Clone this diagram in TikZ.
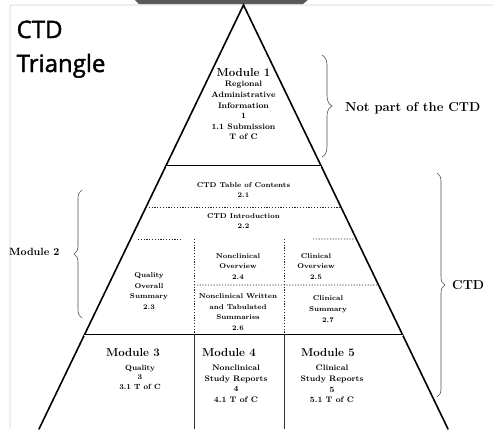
\documentclass[tikz,border=0pt]{standalone}
\usepackage{fontspec}
\usepackage{tikz}
\usetikzlibrary{calc,positioning,decorations.pathreplacing}
\newfontfamily\titlefont[FakeBold=1.6]{Open Sans}

\begin{document}
\begin{tikzpicture}[x=1pt, y=-1pt,
    edge/.style={line width=1.6pt, line cap=round},
    band/.style={line width=0.7pt, double, double distance=0.7pt},
    dots/.style={dash pattern=on 1.2pt off 1.6pt, line width=0.9pt, gray!30!black},
    split/.style={line width=0.8pt, gray!40!black},
    modtitle/.style={font=\fontsize{11.5}{13}\selectfont\bfseries, inner sep=0pt},
    modtext/.style={align=center, font=\fontsize{8}{10.6}\selectfont\bfseries, inner sep=0pt},
    sectext/.style={align=center, font=\fontsize{7}{10.6}\selectfont\bfseries, inner sep=0pt},
    side/.style={font=\fontsize{13}{15}\selectfont\bfseries, inner sep=0pt},
    brace/.style={decorate, decoration={brace, amplitude=#1}, gray!60!black, line width=0.6pt},
    node distance=3pt
]
\useasboundingbox (0,0) rectangle (493,429);

% window frame and tab
\draw[gray!35, line width=0.7pt, rounded corners=2pt] (10,429) |- (493,5);
\fill[gray!70!black] (134,-1) -- (309,-1) -- (303,4) -- (139,4) -- cycle;

% title
\node[font=\titlefont\fontsize{24}{34}\selectfont, anchor=base west, inner sep=0pt] (ctd) at (16.5,38) {CTD};
\node[font=\titlefont\fontsize{24}{34}\selectfont, anchor=base west, inner sep=0pt] (tri) at (16.5,72) {Triangle};

% the triangle
\coordinate (apex) at (243.5,5);
\coordinate (bl) at (39,429);
\coordinate (br) at (448,429);
\draw[edge] (bl) -- (apex) -- (br);

% band edges
\coordinate (m1l) at ($(apex)!0.3797!(bl)$);
\coordinate (m1r) at ($(apex)!0.3797!(br)$);
\coordinate (m2l) at ($(apex)!0.7783!(bl)$);
\coordinate (m2r) at ($(apex)!0.7783!(br)$);
\draw[band] (m1l) -- (m1r);
\draw[band] (m2l) -- (m2r);

% module 2 dotted parts
\coordinate (introl) at ($(apex)!0.4764!(bl)$);
\coordinate (intror) at ($(apex)!0.4764!(br)$);
\coordinate (ovr) at ($(apex)!0.5519!(br)$);
\coordinate (sumr) at ($(apex)!0.6604!(br)$);
\coordinate (ov1) at (194,239);
\coordinate (ov2) at (284,239);
\coordinate (sm1) at (194,335);
\coordinate (sm2) at (284,335);
\coordinate (mid) at (194,285);
\draw[dots] (introl) -- (intror);
\draw[dots] (138,239) -- (181,239);
\draw[dots] (313,239) -- (ovr);
\draw[dots] (ov1) -- (sm1);
\draw[dots] (ov2) -- (sm2);
\draw[dots] (mid) -- (sumr);

% bottom splits
\coordinate (b1) at (194,429);
\coordinate (b2) at (284,429);
\draw[split] (sm1) -- (b1);
\draw[split] (sm2) -- (b2);

% module 1
\node[modtitle] (mod1) at (243.5,73) {Module 1};
\node[modtext, below=4pt of mod1] (mod1txt) {Regional\\Administrative\\Information\\1\\1.1 Submission\\T of C};

% module 2
\node[sectext] (toc) at (243.5,190) {CTD Table of Contents\\2.1};
\node[sectext] (intro) at (243.5,221) {CTD Introduction\\2.2};
\node[sectext] (qos) at (149,291) {Quality\\Overall\\Summary\\2.3};
\node[sectext] (ncov) at (238,266.5) {Nonclinical\\Overview\\2.4};
\node[sectext] (clov) at (316,266.5) {Clinical\\Overview\\2.5};
\node[sectext] (ncsum) at (238,312) {Nonclinical Written\\and Tabulated\\Summaries\\2.6};
\node[sectext] (clsum) at (328,309) {Clinical\\Summary\\2.7};

% modules 3 to 5
\node[modtitle] (mod3) at (133,353) {Module 3};
\node[modtext, font=\fontsize{7.5}{9.4}\selectfont\bfseries, anchor=north] (mod3txt) at (140,365) {Quality\\3\\3.1 T of C};
\node[modtitle] (mod4) at (229,353) {Module 4};
\node[modtext, anchor=north] (mod4txt) at (236,365) {Nonclinical\\Study Reports\\4\\4.1 T of C};
\node[modtitle] (mod5) at (328,353) {Module 5};
\node[modtext, anchor=north] (mod5txt) at (332,365) {Clinical\\Study Reports\\5\\5.1 T of C};

% braces and side labels
\coordinate (n1) at (322,55);
\coordinate (n2) at (322,157);
\draw[brace=10pt] (n1) -- (n2);
\node[side, anchor=west] (notctd) at (345,108) {Not part of the CTD};

\coordinate (c1) at (437,173);
\coordinate (c2) at (437,397);
\draw[brace=8pt] (c1) -- (c2);
\node[side, anchor=west] (ctdlab) at (452,285) {CTD};

\coordinate (l1) at (82,318);
\coordinate (l2) at (82,190);
\draw[brace=8pt] (l1) -- (l2);
\node[side, font=\fontsize{10.5}{12}\selectfont\bfseries, anchor=west] (mod2) at (9,252) {Module 2};
\end{tikzpicture}
\end{document}
